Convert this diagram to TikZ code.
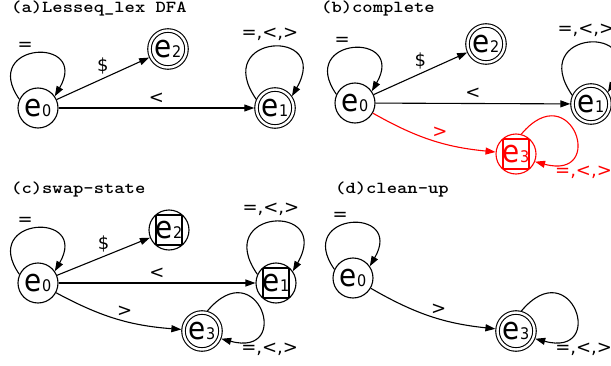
\documentclass[tikz,border=0pt]{standalone}
\usepackage{fontspec}
\usepackage{graphicx}
\usetikzlibrary{arrows.meta}
\newfontfamily\statefont[FakeStretch=0.9]{DejaVu Sans}
\newfontfamily\lblfont{DejaVu Sans}
\newcommand{\stsub}[1]{{\fontsize{16pt}{16pt}\selectfont #1}}
\newcommand{\paneltitle}[1]{\scalebox{1.17}[1]{\ttfamily\bfseries\fontsize{16.8pt}{18pt}\selectfont #1}}
\tikzset{
	state/.style={circle, draw, line width=1.1pt, minimum size=40pt, inner sep=0pt, font=\statefont\fontsize{31pt}{31pt}\selectfont},
	accept/.style={state, double, double distance=2.4pt, minimum size=37pt, outer sep=2.2pt},
	boxed/.style={path picture={\draw [line width=1.1pt, #1] ([shift={(-13pt,-15pt)}]path picture bounding box.center) rectangle ([shift={(13pt,15pt)}]path picture bounding box.center);}},
	boxed/.default=black,
	edge/.style={line width=1.1pt, -{Triangle[length=10pt,width=7pt]}},
	lbl/.style={font=\lblfont\fontsize{18pt}{18pt}\selectfont, inner sep=1pt},
	title/.style={anchor=base west, inner sep=0pt}
}
\begin{document}
\begin{tikzpicture}[x=1pt,y=1pt]
	\useasboundingbox (0,0) rectangle (611,365);
	% (a)
	\node [title] (ta) at (11,352) {\paneltitle{(a)Lesseq\_lex DFA}};
	\node [state] (e0a) at (38,257) {e\stsub{0}};
	\node [accept] (e2a) at (168,316) {e\stsub{2}};
	\node [accept] (e1a) at (275,257) {e\stsub{1}};
	\draw [edge] (e0a.155) .. controls +(125:70) and +(60:70) .. node [lbl, above=1.3pt, xshift=-10pt] {=} (e0a.35);
	\draw [edge] (e0a) -- node [lbl, above=3pt] {\$} (e2a);
	\draw [edge] (e0a) -- node [lbl, above=3pt] {<} (e1a);
	\draw [edge] (e1a.155) .. controls +(125:80) and +(60:80) .. node [lbl, above=5pt, xshift=-2pt] {=,<,>} (e1a.35);
	% (b)
	\node [title] (tb) at (321,352) {\paneltitle{(b)complete}};
	\node [state] (e0b) at (355,262) {e\stsub{0}};
	\node [accept] (e2b) at (486,321) {e\stsub{2}};
	\node [accept] (e1b) at (591,261) {e\stsub{1}};
	\node [state, draw=red, text=red, boxed=red] (e3b) at (516,211) {e\stsub{3}};
	\draw [edge] (e0b.155) .. controls +(125:70) and +(60:70) .. node [lbl, above=1.3pt, xshift=-10pt] {=} (e0b.35);
	\draw [edge] (e0b) -- node [lbl, above=3pt] {\$} (e2b);
	\draw [edge] (e0b) -- node [lbl, above=3pt] {<} (e1b);
	\draw [edge] (e1b.155) .. controls +(125:80) and +(60:80) .. node [lbl, above=5pt, xshift=-2pt] {=,<,>} (e1b.35);
	\draw [edge, red] (e0b) to [bend right=12] node [lbl, pos=.57, above=3pt] {>} (e3b);
	\draw [edge, red] (e3b.75) .. controls +(50:78) and +(-15:75) .. node [lbl, pos=.9, below right=0pt] {=,<,>} (e3b.-22);
	% (c)
	\node [title] (tc) at (11,172) {\paneltitle{(c)swap-state}};
	\node [state] (e0c) at (38,82) {e\stsub{0}};
	\node [state, boxed] (e2c) at (169,135) {e\stsub{2}};
	\node [state, boxed] (e1c) at (276,82) {e\stsub{1}};
	\node [accept] (e3c) at (202,34) {e\stsub{3}};
	\draw [edge] (e0c.155) .. controls +(125:70) and +(60:70) .. node [lbl, above=1.3pt, xshift=-10pt] {=} (e0c.35);
	\draw [edge] (e0c) -- node [lbl, above=3pt] {\$} (e2c);
	\draw [edge] (e0c) -- node [lbl, above=3pt] {<} (e1c);
	\draw [edge] (e1c.155) .. controls +(125:80) and +(60:80) .. node [lbl, above=5pt, xshift=-2pt] {=,<,>} (e1c.35);
	\draw [edge] (e0c) to [bend right=12] node [lbl, pos=.57, above=3pt] {>} (e3c);
	\draw [edge] (e3c.75) .. controls +(50:78) and +(-15:75) .. node [lbl, pos=.9, below right=0pt] {=,<,>} (e3c.-22);
	% (d)
	\node [title] (td) at (335,172) {\paneltitle{(d)clean-up}};
	\node [state] (e0d) at (353,87) {e\stsub{0}};
	\node [accept] (e3d) at (516,34) {e\stsub{3}};
	\draw [edge] (e0d.155) .. controls +(125:70) and +(60:70) .. node [lbl, above=1.3pt, xshift=-10pt] {=} (e0d.35);
	\draw [edge] (e0d) to [bend right=12] node [lbl, pos=.57, above=3pt] {>} (e3d);
	\draw [edge] (e3d.75) .. controls +(50:78) and +(-15:75) .. node [lbl, pos=.9, below right=0pt] {=,<,>} (e3d.-22);
\end{tikzpicture}
\end{document}
